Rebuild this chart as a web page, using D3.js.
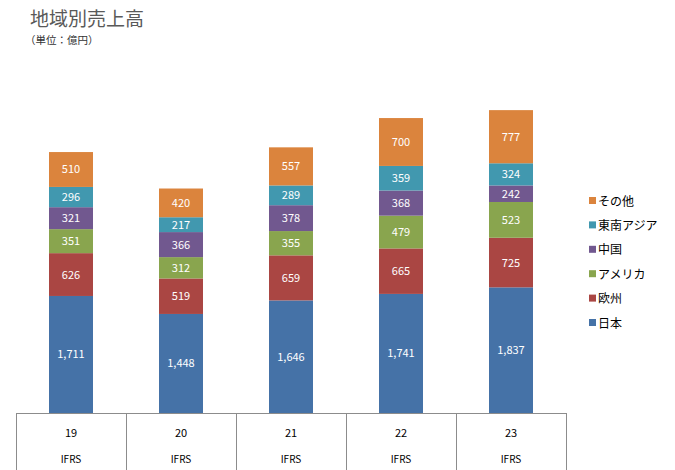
<!DOCTYPE html>
<html>
<head>
<meta charset="utf-8">
<script src="https://cdn.jsdelivr.net/npm/d3@7"></script>
<style>
  body { margin: 0; background: #fff; }
  text { font-family: "Noto Sans CJK JP", "DejaVu Sans", sans-serif; }
</style>
</head>
<body>
<script>
// data
const years = ["19", "20", "21", "22", "23"];
const yearNotes = ["IFRS", "IFRS", "IFRS", "IFRS", "IFRS"];
const regions = ["日本", "欧州", "アメリカ", "中国", "東南アジア", "その他"];
const japan = [1711, 1448, 1646, 1741, 1837];
const europe = [626, 519, 659, 665, 725];
const america = [351, 312, 355, 479, 523];
const china = [321, 366, 378, 368, 242];
const seAsia = [296, 217, 289, 359, 324];
const other = [510, 420, 557, 700, 777];
const colors = ["#4572A7", "#AA4643", "#89A54E", "#71588F", "#4198AF", "#DB843D"];

const series = [japan, europe, america, china, seAsia, other];
const rows = years.map((y, i) => {
    const r = {year: y};
    regions.forEach((k, j) => r[k] = series[j][i]);
    return r;
});

var width = 675, height = 470;
var svg = d3.select("body").append("svg").attr("width", width).attr("height", height);

var x = d3.scaleBand().domain(years).range([16, 566]).paddingInner(0).paddingOuter(0);
var y = d3.scaleLinear().domain([0, 5000]).range([413, 71]);
var color = d3.scaleOrdinal().domain(regions).range(colors);
var barW = 44;

var stack = d3.stack().keys(regions)(rows);

//Title
svg.append("text").text("地域別売上高")
   .attr("x", 30).attr("y", 26)
   .attr("font-size", "19px").attr("fill", "#595959");
svg.append("text").text("（単位：億円）")
   .attr("x", 25).attr("y", 44)
   .attr("font-size", "10.5px").attr("fill", "#333");

//Bars
var layers = svg.selectAll(".layer").data(stack).enter().append("g")
   .attr("class", "layer").attr("fill", d => color(d.key));
layers.selectAll("rect").data(d => d).enter().append("rect")
   .attr("x", d => x(d.data.year) + x.bandwidth() / 2 - barW / 2)
   .attr("width", barW)
   .attr("y", d => y(d[1]))
   .attr("height", d => y(d[0]) - y(d[1]));
layers.selectAll("text").data(d => d.map(v => ({v: v, key: d.key}))).enter().append("text")
   .attr("x", d => x(d.v.data.year) + x.bandwidth() / 2)
   .attr("y", d => (y(d.v[0]) + y(d.v[1])) / 2 + 4)
   .attr("text-anchor", "middle")
   .attr("font-size", "11px")
   .attr("fill", "#fff")
   .text(d => d3.format(",")(d.v.data[d.key]));

//Table axis
var axisG = svg.append("g").attr("stroke", "#8c8c8c").attr("stroke-width", 1);
axisG.append("line").attr("x1", 16).attr("x2", 567).attr("y1", 413.5).attr("y2", 413.5);
var bounds = years.map(d => x(d)).concat([x.range()[1]]);
axisG.selectAll(".vl").data(bounds).enter().append("line")
   .attr("x1", d => Math.round(d) + 0.5).attr("x2", d => Math.round(d) + 0.5)
   .attr("y1", 413).attr("y2", 470);
svg.selectAll(".yl").data(years).enter().append("text")
   .attr("x", d => x(d) + x.bandwidth() / 2).attr("y", 437)
   .attr("text-anchor", "middle").attr("font-size", "11px").attr("fill", "#000")
   .text(d => d);
svg.selectAll(".nl").data(yearNotes).enter().append("text")
   .attr("x", (d, i) => x(years[i]) + x.bandwidth() / 2).attr("y", 463)
   .attr("text-anchor", "middle").attr("font-size", "10px").attr("fill", "#000")
   .text(d => d);

//Legend
var legend = svg.selectAll(".legendLabel").data(regions.slice().reverse()).enter().append("g")
   .attr("transform", (d, i) => "translate(589," + (201 + i * 24.4) + ")");
legend.append("rect").attr("x", 0).attr("y", -4).attr("width", 7).attr("height", 7)
   .attr("fill", d => color(d));
legend.append("text").attr("x", 9).attr("y", 4.5)
   .attr("font-size", "12px").attr("fill", "#000").text(d => d);
</script>
</body>
</html>
